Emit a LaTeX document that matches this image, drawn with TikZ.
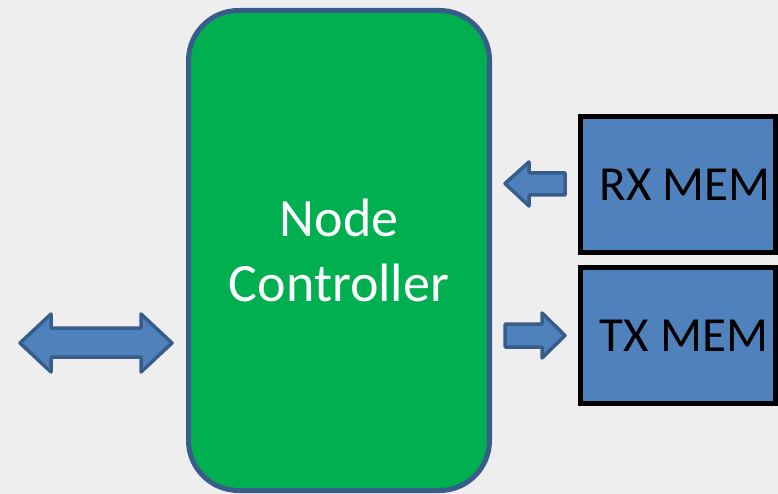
\documentclass[tikz,border=0pt]{standalone}
\usepackage{fontspec}
\setmainfont{Carlito}
\usepackage{tikz}
\usetikzlibrary{positioning}
\definecolor{fundo}{HTML}{EEEEEE}
\definecolor{verde}{HTML}{00B050}
\definecolor{azul}{HTML}{4F81BD}
\definecolor{azulesc}{HTML}{385D8A}

\begin{document}
\begin{tikzpicture}[
    x=1pt, y=-1pt,
    controle/.style={
        rectangle, rounded corners=50pt,
        draw=azulesc, fill=verde, line width=5pt,
        text=white, align=center,
        font=\fontsize{54}{65}\selectfont,
        minimum width=301pt, minimum height=480pt, inner sep=0pt
    },
    memoria/.style={
        rectangle, draw=black, fill=azul, line width=5pt,
        text=black, font=\fontsize{49}{58}\selectfont,
        minimum width=195pt, minimum height=136pt, inner sep=0pt
    },
    bloco/.style={
        draw=azulesc, fill=azul, line width=3.5pt, line join=round
    }
]
\useasboundingbox (0,0) rectangle (778,494);
\fill[fundo] (0,0) rectangle (778,494);

\node[controle] (ctrl) at (339,250.5) {Node\\Controller};
\node[memoria] (rx) at (678,184.5) {\hspace{14pt}RX MEM};
\node[memoria] (tx) at (678,335.5) {\hspace{12pt}TX MEM};

% setas de bloco
\draw[bloco] (20,343) -- (51,314) -- (51,328) -- (141,328) -- (141,314)
    -- (172,343) -- (141,372) -- (141,357) -- (51,357) -- (51,372) -- cycle;
\draw[bloco] (505,183.5) -- (529,162) -- (529,173) -- (565,173) -- (565,195)
    -- (529,195) -- (529,206) -- cycle;
\draw[bloco] (565,335.5) -- (542,313) -- (542,324) -- (505,324) -- (505,347)
    -- (542,347) -- (542,358) -- cycle;
\end{tikzpicture}
\end{document}
